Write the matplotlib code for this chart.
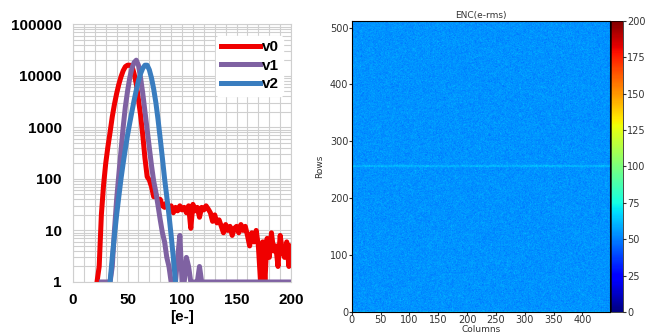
import numpy as np
import matplotlib
matplotlib.use('Agg')
import matplotlib.pyplot as plt
from matplotlib.ticker import FixedLocator, LogLocator, NullFormatter

# --- ENC histogram per version (counts vs. noise in e-) ---
v0_x = [22, 24, 26, 28, 30, 32, 34, 36, 38, 40, 42, 44, 46, 48, 50, 52, 54, 56, 58, 60,
        62, 64, 66, 68, 70, 72, 74, 76, 78, 80, 82, 84, 86, 88, 90, 92, 94, 96, 98, 100,
        102, 104, 106, 108, 110, 112, 114, 116, 118, 120, 122, 124, 126, 128, 130, 132,
        134, 136, 138, 140, 142, 144, 146, 148, 150, 152, 154, 156, 158, 160, 162, 164,
        166, 168, 170, 172, 174, 176, 178, 180, 182, 184, 186, 188, 190, 192, 194, 196,
        198, 200]
v0_y = [1, 2, 20, 75, 200, 420, 800, 1600, 2800, 4500, 6800, 9500, 12500, 15000, 16000,
        16000, 15500, 11000, 7000, 3500, 1700, 700, 250, 110, 95, 70, 45, 50, 38, 40,
        30, 28, 35, 25, 30, 22, 28, 24, 30, 25, 28, 22, 30, 11, 32, 24, 28, 18, 28, 25,
        30, 26, 22, 15, 20, 14, 16, 12, 9, 13, 10, 12, 8, 11, 12, 9, 13, 10, 12, 8,
        5, 9, 6, 10, 5, 1, 6, 1, 7, 3, 9, 4, 5, 2, 8, 4, 3, 6, 2, 5]

v1_x = [26, 28, 30, 32, 34, 36, 38, 40, 42, 44, 46, 48, 50, 52, 54, 56, 58, 60, 62, 64,
        66, 68, 70, 72, 74, 76, 78, 80, 82, 84, 86, 88, 90, 92, 94, 96, 98, 100, 102,
        104, 106, 108, 110, 112, 114, 116, 118, 200]
v1_y = [1, 1, 1, 1, 1, 2, 10, 40, 120, 350, 1000, 2500, 5000, 9000, 14000, 18000, 20000,
        16000, 9000, 4500, 2000, 900, 400, 180, 90, 55, 30, 16, 9, 6, 3, 2, 1, 1, 1, 3,
        8, 1, 1, 3, 2, 1, 1, 1, 1, 2, 1, 1]

v2_x = [34, 36, 38, 40, 42, 44, 46, 48, 50, 52, 54, 56, 58, 60, 62, 64, 66, 68, 70, 72,
        74, 76, 78, 80, 82, 84, 86, 88, 90, 92, 94]
v2_y = [1, 3, 8, 20, 45, 100, 200, 380, 700, 1200, 2000, 3300, 5200, 8000, 11000, 14000,
        16000, 16000, 13000, 9000, 5500, 3000, 1400, 600, 250, 100, 45, 20, 8, 3, 1]

series = [("v0", v0_x, v0_y, "#f00000"),
          ("v1", v1_x, v1_y, "#7f62a2"),
          ("v2", v2_x, v2_y, "#3a7dbf")]

# --- ENC map of the sensor (rows x columns, e-rms) ---
n_rows, n_cols = 512, 448
enc_level = 54.0
enc_spread = 4.0
hot_row = 256
hot_row_level = 60.0

fig = plt.figure(figsize=(6.49, 3.34), dpi=100)

# left: histograms
ax = fig.add_axes([0.1125, 0.1557, 0.336, 0.772])
for name, x, y, c in series:
    ax.plot(x, y, color=c, lw=3.6, label=name, solid_joinstyle='round')
ax.set_yscale('log')
ax.set_xlim(0, 200)
ax.set_ylim(1, 100000)
ax.xaxis.set_major_locator(FixedLocator([0, 50, 100, 150, 200]))
ax.xaxis.set_minor_locator(FixedLocator(np.arange(0, 201, 10)))
ax.yaxis.set_minor_locator(LogLocator(base=10, subs=np.arange(2, 10)))
ax.yaxis.set_minor_formatter(NullFormatter())
ax.set_yticks([1, 10, 100, 1000, 10000, 100000])
ax.set_yticklabels(['1', '10', '100', '1000', '10000', '100000'])
ax.grid(which='both', color='#cfcfcf', lw=0.8)
ax.set_axisbelow(True)
ax.tick_params(which='both', length=0, pad=8)
for s in ax.spines.values():
    s.set_color('#cfcfcf')
bold = dict(family='Liberation Sans', weight='bold', size=11)
for lab in ax.get_xticklabels() + ax.get_yticklabels():
    lab.set_fontproperties(matplotlib.font_manager.FontProperties(**bold))
ax.set_xlabel('[e-]', labelpad=2, **bold)
leg = ax.legend(loc='upper right', bbox_to_anchor=(1.0, 0.985), frameon=True,
                handlelength=2.6, handletextpad=0.1, labelspacing=0.3,
                borderpad=0.3, prop=dict(family='Liberation Sans', weight='bold', size=11))
leg.get_frame().set_edgecolor('white')
leg.get_frame().set_alpha(1.0)

# right: ENC map; pixel-to-pixel noise around the mean level
rng = np.random.default_rng(3)
enc = enc_level + enc_spread * rng.standard_normal((n_rows, n_cols))
enc[hot_row - 2:hot_row + 2, :] += hot_row_level - enc_level
enc[0, :] += 8

ax2 = fig.add_axes([0.542, 0.066, 0.398, 0.872])
im = ax2.imshow(enc, cmap='jet', vmin=0, vmax=200, origin='lower',
                extent=(0, n_cols, 0, n_rows), interpolation='antialiased', aspect='auto')
ax2.set_xticks(np.arange(0, 401, 50))
ax2.set_yticks(np.arange(0, 501, 100))
ax2.tick_params(labelsize=7, length=2, pad=0.5, colors='#333333')
ax2.set_title('ENC(e-rms)', fontsize=6.5, pad=2, color='#333333')
ax2.set_xlabel('Columns', fontsize=6.5, labelpad=0, color='#333333')
ax2.set_ylabel('Rows', fontsize=6.5, labelpad=4, color='#333333')

cax = fig.add_axes([0.9415, 0.066, 0.0185, 0.872])
cb = fig.colorbar(im, cax=cax, ticks=np.arange(0, 201, 25))
cb.ax.tick_params(labelsize=7, length=2, pad=1, colors='#333333')
cb.outline.set_linewidth(0.5)

fig.savefig('out.png', dpi=100)
